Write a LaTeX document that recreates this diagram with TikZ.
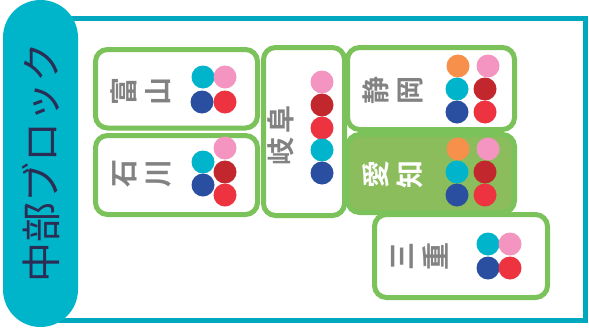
\documentclass[tikz,border=0pt]{standalone}
\usepackage{fontspec}
\newfontfamily\jpfont{Noto Sans CJK JP}
\newfontfamily\jpbold{Noto Sans CJK JP Bold}
\definecolor{teal1}{HTML}{00B5C9}
\definecolor{teal2}{HTML}{00A8BF}
\definecolor{navytxt}{HTML}{2B2D55}
\definecolor{gbord}{HTML}{7BC25A}
\definecolor{gfill}{HTML}{8BBD5C}
\definecolor{greytxt}{HTML}{828282}
\definecolor{dcyan}{HTML}{00B5CB}
\definecolor{dpink}{HTML}{F395C0}
\definecolor{dnavy}{HTML}{2B4FA0}
\definecolor{dred}{HTML}{EE3340}
\definecolor{ddark}{HTML}{C1272D}
\definecolor{dorange}{HTML}{F7904A}
\newcommand\pdot[3]{\fill[#1] (#2,#3) circle[radius=11.5];}
\begin{document}
\begin{tikzpicture}[x=1pt,y=-1pt,
  pref/.style={draw=gbord, line width=5pt, rounded corners=12pt, fill=white, inner sep=0pt},
  lab/.style={rotate=90, text=greytxt, font=\jpbold\fontsize{28}{34}\selectfont, align=center, inner sep=0pt},
  bandtext/.style={rotate=90, text=navytxt, font=\jpfont\fontsize{40}{44}\selectfont, inner sep=0pt}]
\useasboundingbox (0,0) rectangle (589,327);
\fill[white] (0,0) rectangle (589,327);
\draw[teal2, line width=5pt] (40,18) rectangle (585,320);
\fill[teal1, rounded corners=37.5pt] (3,0) rectangle (78,327);
\node[bandtext] (title) at (41,162) {中部ブロック};
% boxes
\node[pref, minimum width=162pt, minimum height=78.5pt] (toyama) at (176.5,88.75) {};
\node[pref, minimum width=162pt, minimum height=79pt] (ishikawa) at (176.5,175) {};
\node[pref, minimum width=81pt, minimum height=168pt] (gifu) at (304,131.5) {};
\node[pref, minimum width=167pt, minimum height=82pt] (shizuoka) at (431,88.5) {};
\node[pref, minimum width=173pt, minimum height=83pt] (mie) at (461,256) {};
\node[pref, fill=gfill, minimum width=167pt, minimum height=78pt] (aichi) at (431,173.5) {};
% labels
\node[lab] (toyamaL) at (141,91) {富\\山};
\node[lab] (ishikawaL) at (142,173) {石\\川};
\node[lab] (gifuL) at (281,135) {岐\hspace{4pt}阜};
\node[lab] (shizuokaL) at (393,90) {静\\岡};
\node[lab, text=white] (aichiL) at (393,174) {愛\\知};
\node[lab] (mieL) at (420,256) {三\\重};
% dots toyama
\pdot{dcyan}{203}{77}\pdot{dpink}{225}{77}\pdot{dnavy}{202}{102}\pdot{dred}{225}{102}
% ishikawa
\pdot{dpink}{225}{148}\pdot{dcyan}{203}{162}\pdot{ddark}{225}{172}\pdot{dnavy}{203}{185}\pdot{dred}{225}{195}
% gifu
\pdot{dpink}{322}{82}\pdot{ddark}{322}{105}\pdot{dred}{322}{128}\pdot{dcyan}{322}{150}\pdot{dnavy}{322}{173}
% shizuoka
\pdot{dorange}{458}{66}\pdot{dpink}{488}{66}\pdot{dcyan}{457}{89}\pdot{ddark}{485}{89}\pdot{dnavy}{457}{112}\pdot{dred}{485}{112}
% aichi
\pdot{dorange}{458}{149}\pdot{dpink}{488}{149}\pdot{dcyan}{457}{172}\pdot{ddark}{485}{172}\pdot{dnavy}{457}{195}\pdot{dred}{485}{195}
% mie
\pdot{dcyan}{488}{244}\pdot{dpink}{510}{244}\pdot{dnavy}{488}{268}\pdot{dred}{510}{268}
\end{tikzpicture}
\end{document}
